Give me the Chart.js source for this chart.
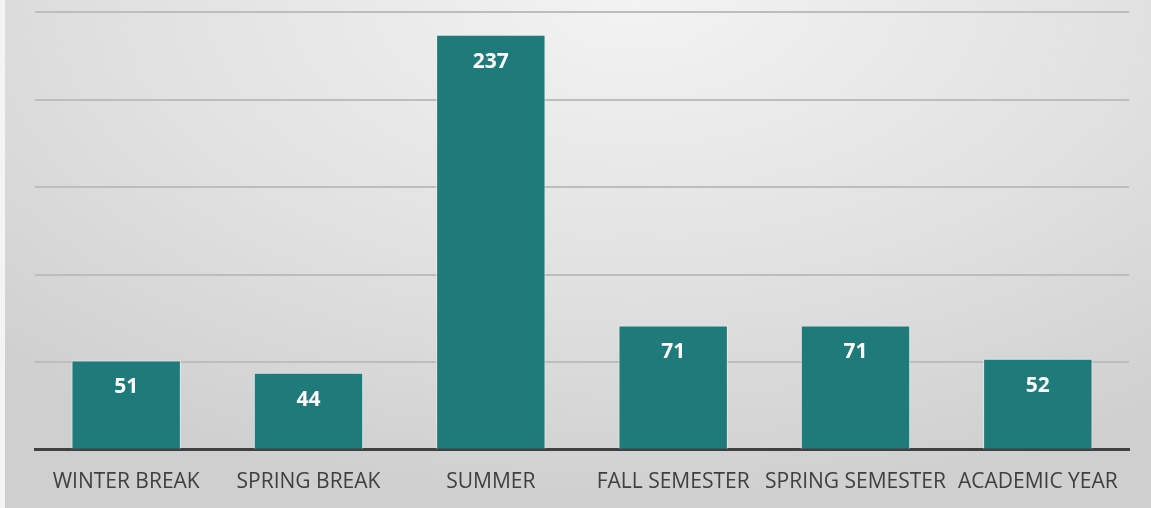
<!DOCTYPE html>
<html>
<head>
<meta charset="utf-8">
<script src="https://cdn.jsdelivr.net/npm/chart.js@4/dist/chart.umd.min.js"></script>
<style>
  html, body { margin: 0; padding: 0; background: #f4f4f4; overflow: hidden; }
  #wrap {
    position: absolute; left: 5px; top: 0; width: 1146px; height: 508px; overflow: hidden;
    background: radial-gradient(ellipse 80% 100% at 55% 0%, #f3f3f3 0%, #e1e1e1 55%, #cfcfcf 100%);
  }
  canvas { display: block; }
</style>
</head>
<body>
<div id="wrap"><canvas id="myChart" width="1146" height="517"></canvas></div>
<script>
const categories = ["WINTER BREAK", "SPRING BREAK", "SUMMER", "FALL SEMESTER", "SPRING SEMESTER", "ACADEMIC YEAR"];
const values = [51, 44, 237, 71, 71, 52];
const yTicks = [0, 50, 100, 150, 200, 250];

const barLabels = {
    id: 'barLabels',
    afterDatasetsDraw(chart) {
        const c = chart.ctx;
        const meta = chart.getDatasetMeta(0);
        c.save();
        c.fillStyle = '#ffffff';
        c.font = 'bold 21px "Open Sans", sans-serif';
        c.textAlign = 'center';
        c.textBaseline = 'middle';
        meta.data.forEach((bar, i) => {
            c.fillText(values[i], bar.x, bar.y + 27);
        });
        c.restore();
    }
};

const ctx = document.getElementById('myChart');
const chart = new Chart(ctx, {
    type: 'bar',
    data: {
        labels: categories,
        datasets: [{
            data: values,
            backgroundColor: '#1f7a7a',
            borderColor: 'rgba(230,240,240,0.8)',
            borderWidth: 1,
            barPercentage: 0.6,
            categoryPercentage: 1
        }]
    },
    options: {
        responsive: false,
        animation: false,
        layout: { padding: { left: 30, right: 22, top: 12, bottom: 2 } },
        plugins: { legend: { display: false }, tooltip: { enabled: false } },
        scales: {
            x: {
                grid: { display: false, drawTicks: false },
                border: { display: true, color: '#404040', width: 3 },
                ticks: {
                    color: '#404040',
                    font: { size: 21, family: '"Open Sans", sans-serif' },
                    padding: 20,
                    maxRotation: 0,
                    autoSkip: false
                }
            },
            y: {
                min: 0,
                max: 250,
                afterBuildTicks: (axis) => { axis.ticks = yTicks.map(v => ({ value: v })); },
                ticks: { display: false },
                grid: {
                    drawTicks: false,
                    lineWidth: 2,
                    color: (c) => c.tick && c.tick.value === 0 ? 'rgba(0,0,0,0)' : '#bdbdbd'
                },
                border: { display: false }
            }
        }
    },
    plugins: [barLabels]
});
</script>
</body>
</html>
